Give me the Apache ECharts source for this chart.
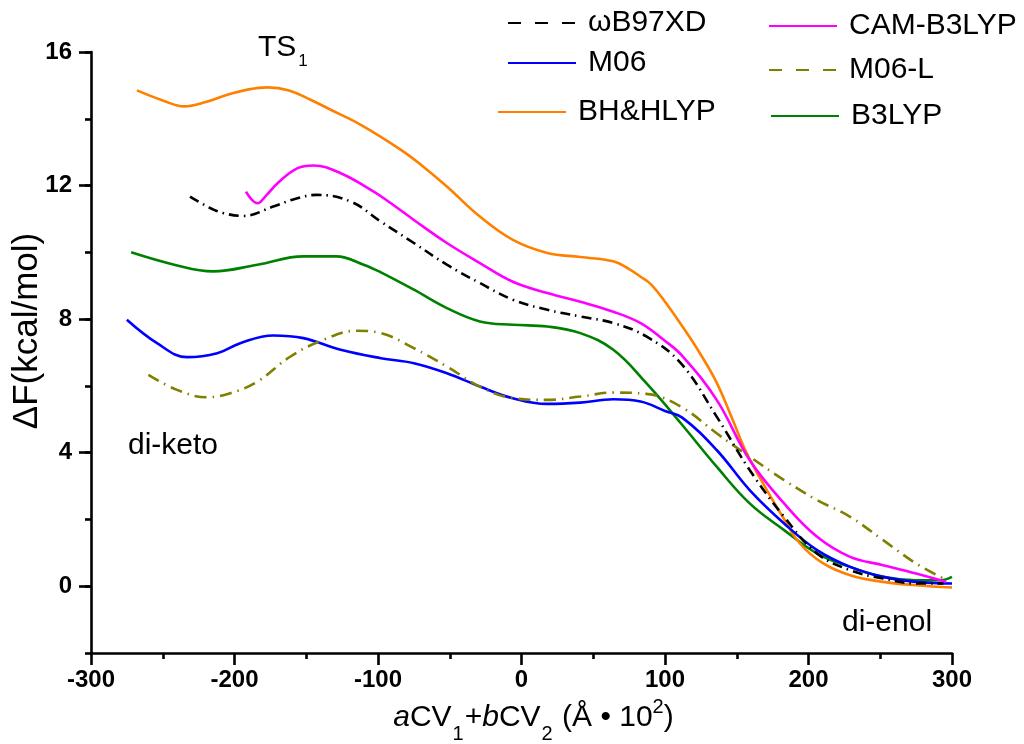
<!DOCTYPE html>
<html>
<head>
<meta charset="utf-8">
<script src="https://cdn.jsdelivr.net/npm/echarts@6/dist/echarts.min.js"></script>
<style>
html,body{margin:0;padding:0;background:#fff;}
#chart{width:1024px;height:744px;}
</style>
</head>
<body>
<div id="chart"></div>
<script>
// ---- data ----
const wb97xdX = [-231,-218,-208,-194,-173,-158,-143,-119,-98,-75,-52,-29,-6,18,41,64,87,111,136,159,183,206,229,252,275,294];
const wb97xdY = [11.67,11.35,11.18,11.09,11.37,11.6,11.72,11.52,10.92,10.28,9.63,9.08,8.58,8.28,8.08,7.88,7.48,6.68,5.08,3.48,2.08,0.98,0.48,0.23,0.08,0.08];

const m06X = [-275,-254,-233,-212,-196,-173,-152,-126,-98,-75,-52,-29,-6,18,41,64,83,100,112,136,159,183,206,229,252,275,300];
const m06Y = [7.98,7.28,6.86,6.98,7.28,7.51,7.43,7.08,6.83,6.68,6.38,5.98,5.63,5.46,5.50,5.60,5.53,5.25,5.05,4.08,2.88,1.88,1.08,0.58,0.28,0.13,0.08];

const bhhlypX = [-268,-250,-235,-220,-205,-190,-177,-162,-147,-133,-112,-84,-68,-52,-29,-6,18,41,64,75,83,90,99,111,124,136,147,157,171,182,194,210,229,252,275,300];
const bhhlypY = [14.85,14.55,14.37,14.5,14.72,14.88,14.94,14.85,14.57,14.27,13.82,13.07,12.55,11.97,11.07,10.37,9.98,9.86,9.73,9.5,9.27,9.05,8.58,7.85,7.0,6.1,5.0,3.98,2.88,2.08,1.28,0.69,0.33,0.13,0.03,-0.04];

const camX = [-192,-188,-184,-178,-170,-156,-145,-126,-103,-91,-75,-52,-29,-6,18,41,64,83,99,112,136,159,183,206,229,252,275,296];
const camY = [11.82,11.58,11.47,11.7,12.07,12.52,12.60,12.37,11.82,11.47,10.97,10.28,9.68,9.12,8.78,8.52,8.22,7.88,7.38,6.9,5.58,3.78,2.48,1.48,0.88,0.63,0.38,0.13];

const m06lX = [-260,-240,-219,-203,-184,-161,-138,-115,-98,-75,-52,-29,-6,18,41,64,87,111,136,159,183,206,229,252,275,294];
const m06lY = [6.33,5.88,5.66,5.78,6.13,6.88,7.38,7.65,7.58,7.13,6.58,5.98,5.63,5.58,5.68,5.80,5.76,5.38,4.58,3.88,3.18,2.58,2.08,1.38,0.68,0.23];

const b3lypX = [-272,-242,-215,-184,-152,-129,-110,-98,-75,-52,-29,-6,18,41,64,87,111,136,159,183,206,229,252,275,292,300];
const b3lypY = [10.0,9.63,9.43,9.63,9.88,9.88,9.63,9.4,8.88,8.33,7.93,7.83,7.78,7.58,7.08,6.08,4.88,3.58,2.48,1.68,0.98,0.58,0.28,0.18,0.18,0.28];

const seriesNames = ['ωB97XD','M06','BH&HLYP','CAM-B3LYP','M06-L','B3LYP'];
const yLabelValues = [0,4,8,12,16];
const annotations = ['di-keto','di-enol'];

// ---- chart ----
const FONT = '"Liberation Sans", Arial, Helvetica, sans-serif';
const pair = (xs, ys) => xs.map((x, i) => [x, ys[i]]);

function lineSeries(name, xs, ys, color, type) {
  return {
    name: name, type: 'line', data: pair(xs, ys),
    smooth: 0.4, symbol: 'none', showSymbol: false,
    lineStyle: { color: color, width: 2.6, type: type || 'solid' },
    itemStyle: { color: color },
    emphasis: { disabled: true }, animation: false
  };
}

function legendAt(name, left, top, dash) {
  const l = {
    data: [name], left: left, top: top, padding: 0,
    itemWidth: 68, itemHeight: 14, selectedMode: false,
    itemStyle: { color: 'rgba(0,0,0,0)', borderWidth: 0, opacity: 0 },
    textStyle: { fontFamily: FONT, fontSize: 30, color: '#000', padding: [0, 0, 0, 7] }
  };
  if (dash) l.lineStyle = { type: dash };
  return l;
}

const chart = echarts.init(document.getElementById('chart'), null, { renderer: 'canvas' });
const subRich = {
  m: { fontFamily: FONT, fontSize: 30, color: '#000', verticalAlign: 'top', padding: [6, 0, 0, 0] },
  i: { fontFamily: FONT, fontSize: 30, color: '#000', verticalAlign: 'top', padding: [6, 0, 0, 0], fontStyle: 'italic' },
  s: { fontFamily: FONT, fontSize: 20, color: '#000', verticalAlign: 'top', padding: [27, 1, 0, 1] },
  p: { fontFamily: FONT, fontSize: 20, color: '#000', verticalAlign: 'top', padding: [0, 0, 0, 0] }
};

const option = {
  animation: false,
  backgroundColor: '#fff',
  grid: { left: 91, right: 72, top: 52, bottom: 91, containLabel: false, outerBoundsMode: 'none' },
  xAxis: {
    type: 'value', min: -300, max: 300, interval: 100,
    axisLine: { show: true, onZero: false, lineStyle: { color: '#000', width: 2.6 } },
    axisTick: { show: true, length: 12, lineStyle: { color: '#000', width: 2.6 } },
    minorTick: { show: true, splitNumber: 2, length: 6, lineStyle: { color: '#000', width: 2.6 } },
    splitLine: { show: false }, minorSplitLine: { show: false },
    axisLabel: { fontFamily: FONT, fontSize: 24, fontWeight: 'bold', color: '#000', margin: 15 },
    name: '{i|a}{m|CV}{s|1}{m|+}{i|b}{m|CV}{s|2}{m| (Å • 10}{p|2}{m|)}',
    nameLocation: 'middle', nameGap: 44,
    nameTextStyle: { rich: subRich, padding: [0, 0, 0, 24] }
  },
  yAxis: [
    {
      type: 'value', min: -2, max: 16, interval: 2,
      axisLine: { show: true, onZero: false, lineStyle: { color: '#000', width: 2.6 } },
      axisTick: { show: true, length: 6, lineStyle: { color: '#000', width: 2.6 } },
      splitLine: { show: false },
      axisLabel: { customValues: yLabelValues, fontFamily: FONT, fontSize: 24, fontWeight: 'bold', color: '#000', margin: 19 }
    },
    {
      type: 'value', min: -2, max: 16, interval: 2, position: 'left',
      axisLine: { show: false, onZero: false },
      axisTick: { show: true, customValues: yLabelValues, length: 12, lineStyle: { color: '#000', width: 2.6 } },
      splitLine: { show: false },
      axisLabel: { show: false }
    }
  ],
  legend: [
    legendAt(seriesNames[0], 507, 8, [13, 14]),
    legendAt(seriesNames[1], 507, 48),
    legendAt(seriesNames[2], 497, 97),
    legendAt(seriesNames[3], 768, 11),
    legendAt(seriesNames[4], 768, 55, [13, 14]),
    legendAt(seriesNames[5], 770, 101)
  ],
  series: [
    lineSeries(seriesNames[5], b3lypX, b3lypY, '#008000'),
    lineSeries(seriesNames[2], bhhlypX, bhhlypY, '#FF8000'),
    lineSeries(seriesNames[1], m06X, m06Y, '#0000FF'),
    lineSeries(seriesNames[3], camX, camY, '#FF00FF'),
    lineSeries(seriesNames[4], m06lX, m06lY, '#808000', [12, 6, 1.5, 6]),
    lineSeries(seriesNames[0], wb97xdX, wb97xdY, '#000000', [10, 5, 1.5, 5])
  ],
  graphic: [
    { type: 'text', left: 258, top: 33, silent: true,
      style: { text: '{t|TS}{u|1}', rich: {
        t: { fontFamily: FONT, fontSize: 30, fill: '#000', verticalAlign: 'top' },
        u: { fontFamily: FONT, fontSize: 17, fill: '#000', verticalAlign: 'top', padding: [20, 0, 0, 2] } } } },
    { type: 'text', left: 128, top: 428, silent: true,
      style: { text: annotations[0], fontFamily: FONT, fontSize: 30, fill: '#000', lineHeight: 36 } },
    { type: 'text', left: 842, top: 605, silent: true,
      style: { text: annotations[1], fontFamily: FONT, fontSize: 30, fill: '#000', lineHeight: 36 } },
    { type: 'text', x: 27, y: 331, rotation: Math.PI / 2, silent: true,
      style: { text: 'ΔF(kcal/mol)', fontFamily: FONT, fontSize: 35, fill: '#000', align: 'center', verticalAlign: 'middle' } }
  ]
};
chart.setOption(option);
</script>
</body>
</html>
